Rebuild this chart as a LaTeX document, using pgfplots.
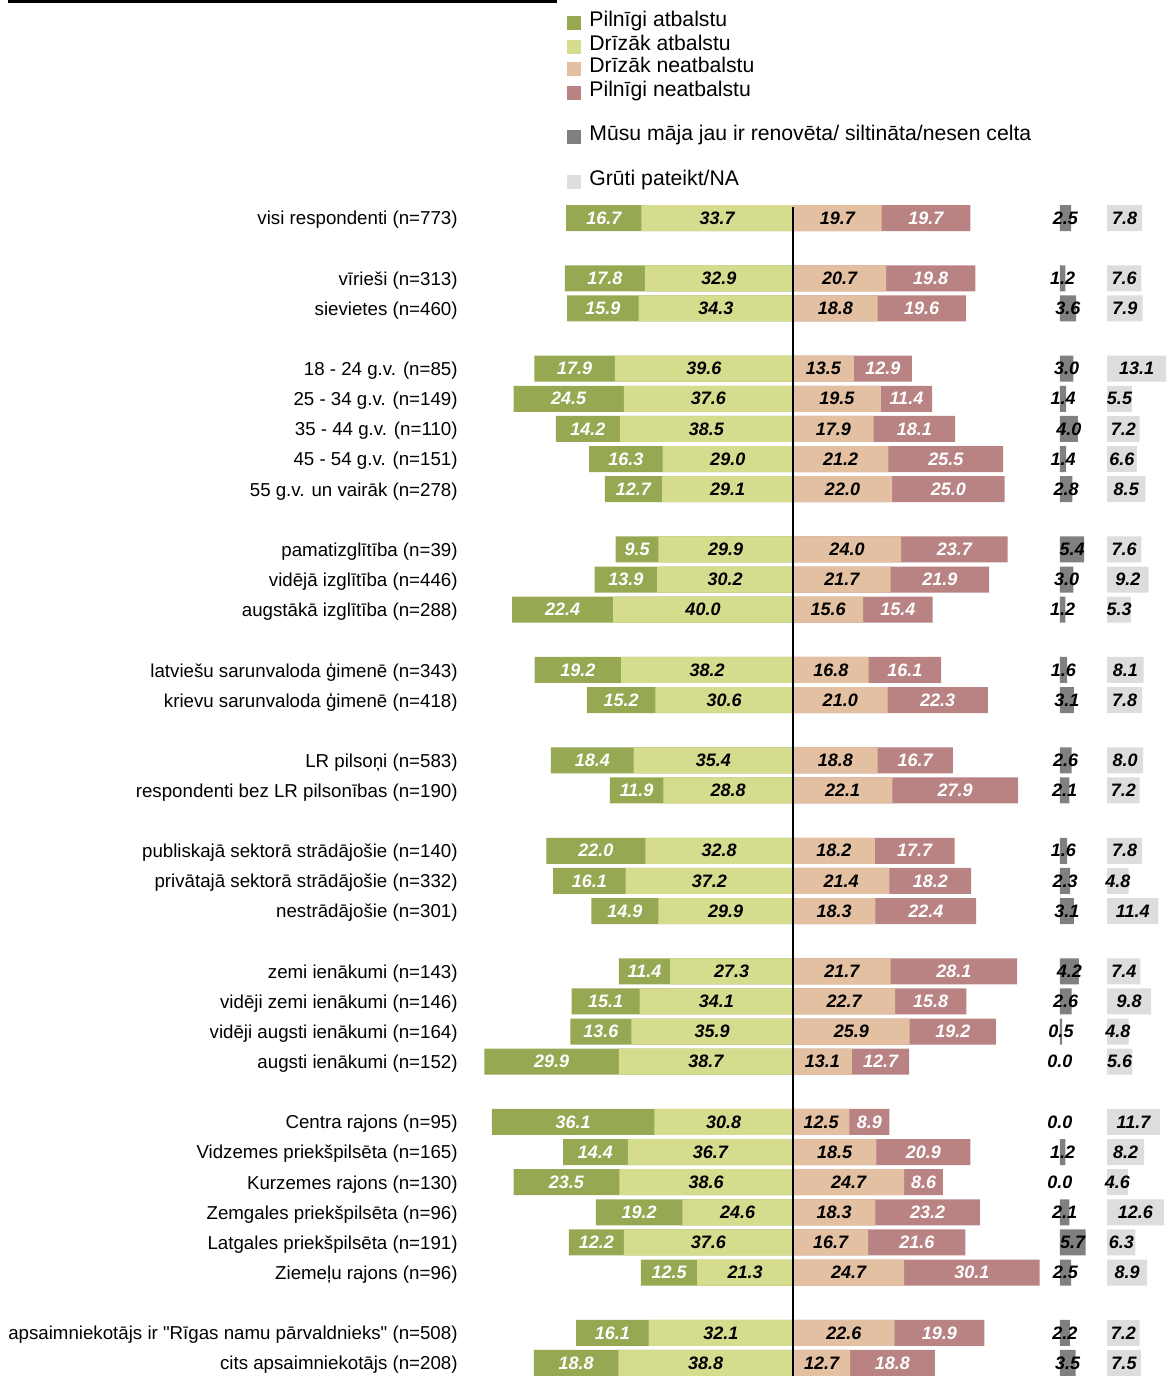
\documentclass[border=0pt]{standalone}
\usepackage{pgfplots}
\pgfplotsset{compat=1.18}
\usepackage{pgfplotstable}
\usepackage{fontspec}
\setmainfont{Liberation Sans}
\newfontfamily\plainfont{Liberation Sans}

\definecolor{dgreen}{RGB}{150,168,82}
\definecolor{lgreen}{RGB}{213,220,142}
\definecolor{lorange}{RGB}{227,192,161}
\definecolor{rose}{RGB}{185,130,131}
\definecolor{dgray}{RGB}{128,128,128}
\definecolor{lgray}{RGB}{221,221,221}

\pgfplotstableread{
y a b c d e f
0 16.7 33.7 19.7 19.7 2.5 7.8
2 17.8 32.9 20.7 19.8 1.2 7.6
3 15.9 34.3 18.8 19.6 3.6 7.9
5 17.9 39.6 13.5 12.9 3.0 13.1
6 24.5 37.6 19.5 11.4 1.4 5.5
7 14.2 38.5 17.9 18.1 4.0 7.2
8 16.3 29.0 21.2 25.5 1.4 6.6
9 12.7 29.1 22.0 25.0 2.8 8.5
11 9.5 29.9 24.0 23.7 5.4 7.6
12 13.9 30.2 21.7 21.9 3.0 9.2
13 22.4 40.0 15.6 15.4 1.2 5.3
15 19.2 38.2 16.8 16.1 1.6 8.1
16 15.2 30.6 21.0 22.3 3.1 7.8
18 18.4 35.4 18.8 16.7 2.6 8.0
19 11.9 28.8 22.1 27.9 2.1 7.2
21 22.0 32.8 18.2 17.7 1.6 7.8
22 16.1 37.2 21.4 18.2 2.3 4.8
23 14.9 29.9 18.3 22.4 3.1 11.4
25 11.4 27.3 21.7 28.1 4.2 7.4
26 15.1 34.1 22.7 15.8 2.6 9.8
27 13.6 35.9 25.9 19.2 0.5 4.8
28 29.9 38.7 13.1 12.7 0.0 5.6
30 36.1 30.8 12.5 8.9 0.0 11.7
31 14.4 36.7 18.5 20.9 1.2 8.2
32 23.5 38.6 24.7 8.6 0.0 4.6
33 19.2 24.6 18.3 23.2 2.1 12.6
34 12.2 37.6 16.7 21.6 5.7 6.3
35 12.5 21.3 24.7 30.1 2.5 8.9
37 16.1 32.1 22.6 19.9 2.2 7.2
38 18.8 38.8 12.7 18.8 3.5 7.5
}\data

\pgfplotsset{
  base/.style={
    x=2.25pt, y=15.065pt, y dir=reverse,
    xmin=-74, xmax=83, ymin=-1, ymax=38.43,
    anchor=north west, at={(230pt,-93.935pt)},
    clip=false, bar width=0.863,
  },
  lbl/.style={draw=none, mark=none, nodes near coords, point meta=explicit symbolic,
    nodes near coords style={font=\fontsize{9}{10}\selectfont\bfseries\itshape, text=#1, anchor=center, inner sep=0pt}},
}

\begin{document}
\begin{tikzpicture}
\useasboundingbox (0,0) rectangle (584pt,-688pt);
\begin{scope}[x=0.5pt,y=-0.5pt]
\fill[black] (8,0) rectangle (557,3);
\begin{scope}[font=\fontsize{10.6}{12}\selectfont]
\fill[dgreen] (567,16.2) rectangle ++(14,14);
\node[anchor=base west, inner sep=0] at (589,26.7) {Pilnīgi atbalstu};
\fill[lgreen] (567,39.5) rectangle ++(14,14);
\node[anchor=base west, inner sep=0] at (589,50) {Drīzāk atbalstu};
\fill[lorange] (567,62.2) rectangle ++(14,14);
\node[anchor=base west, inner sep=0] at (589,72.7) {Drīzāk neatbalstu};
\fill[rose] (567,85.5) rectangle ++(14,14);
\node[anchor=base west, inner sep=0] at (589,96) {Pilnīgi neatbalstu};
\fill[dgray] (567,129.5) rectangle ++(14,14);
\node[anchor=base west, inner sep=0] at (589,140) {Mūsu māja jau ir renovēta/ siltināta/nesen celta};
\fill[lgray] (567,175.2) rectangle ++(14,14);
\node[anchor=base west, inner sep=0] at (589,185.7) {Grūti pateikt/NA};
\end{scope}
\end{scope}

\begin{axis}[base, hide axis, xbar stacked, bar shift=0pt]
\addplot[fill=none, draw=none] table[x expr=59.3, y=y]{\data};
\addplot[fill=dgray, draw=none] table[x=e, y=y]{\data};
\addplot[fill=none, draw=none] table[x expr=10.5-\thisrow{e}, y=y]{\data};
\addplot[fill=lgray, draw=none] table[x=f, y=y]{\data};
\end{axis}

\begin{axis}[base,
  axis x line=none, axis y line*=left, y axis line style={draw=none},
  xtick=\empty, major tick length=0pt,
  ytick={0,2,3,5,6,7,8,9,11,12,13,15,16,18,19,21,22,23,25,26,27,28,30,31,32,33,34,35,37,38},
  yticklabels={{visi respondenti (n=773)},
    {vīrieši (n=313)},{sievietes (n=460)},
    {18 - 24 g.v. (n=85)},{25 - 34 g.v. (n=149)},{35 - 44 g.v. (n=110)},{45 - 54 g.v. (n=151)},{55 g.v. un vairāk (n=278)},
    {pamatizglītība (n=39)},{vidējā izglītība (n=446)},{augstākā izglītība (n=288)},
    {latviešu sarunvaloda ģimenē (n=343)},{krievu sarunvaloda ģimenē (n=418)},
    {LR pilsoņi (n=583)},{respondenti bez LR pilsonības (n=190)},
    {publiskajā sektorā strādājošie (n=140)},{privātajā sektorā strādājošie (n=332)},{nestrādājošie (n=301)},
    {zemi ienākumi (n=143)},{vidēji zemi ienākumi (n=146)},{vidēji augsti ienākumi (n=164)},{augsti ienākumi (n=152)},
    {Centra rajons (n=95)},{Vidzemes priekšpilsēta (n=165)},{Kurzemes rajons (n=130)},{Zemgales priekšpilsēta (n=96)},{Latgales priekšpilsēta (n=191)},{Ziemeļu rajons (n=96)},
    {apsaimniekotājs ir {\plainfont"}Rīgas namu pārvaldnieks{\plainfont"} (n=508)},{cits apsaimniekotājs (n=208)}},
  yticklabel style={anchor=east, inner sep=0pt, xshift=-1pt, yshift=-1pt, font=\fontsize{9.35}{10}\selectfont},
]
\addplot[xbar, bar shift=0pt, fill=dgreen, draw=none] table[x expr=-\thisrow{a}-\thisrow{b}, y=y]{\data};
\addplot[xbar, bar shift=0pt, fill=lgreen, draw=none] table[x expr=-\thisrow{b}, y=y]{\data};
\addplot[xbar, bar shift=0pt, fill=rose, draw=none] table[x expr=\thisrow{c}+\thisrow{d}, y=y]{\data};
\addplot[xbar, bar shift=0pt, fill=lorange, draw=none] table[x expr=\thisrow{c}, y=y]{\data};
\addplot[lbl=white] table[x expr=-\thisrow{b}-\thisrow{a}/2, y=y, meta=a]{\data};
\addplot[lbl=black] table[x expr=-\thisrow{b}/2, y=y, meta=b]{\data};
\addplot[lbl=black] table[x expr=\thisrow{c}/2, y=y, meta=c]{\data};
\addplot[lbl=white] table[x expr=\thisrow{c}+\thisrow{d}/2, y=y, meta=d]{\data};
\addplot[lbl=black] table[x expr=59.3+\thisrow{e}/2, y=y, meta=e]{\data};
\addplot[lbl=black] table[x expr=69.8+\thisrow{f}/2, y=y, meta=f]{\data};
\draw[black, line width=0.7pt] (axis cs:0,-0.37) -- (axis cs:0,38.43);
\end{axis}
\end{tikzpicture}
\end{document}
